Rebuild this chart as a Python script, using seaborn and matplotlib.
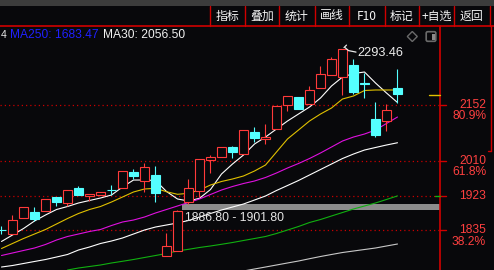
import matplotlib
matplotlib.use("Agg")
import matplotlib.pyplot as plt
import seaborn as sns
import numpy as np
import pandas as pd
from matplotlib.patches import Rectangle, Polygon, FancyBboxPatch

sns.set_style("dark")
plt.rcParams['font.family'] = ['Liberation Sans', 'Noto Sans CJK SC', 'DejaVu Sans']

# ---------------- data ----------------
opens  = [1836.0, 1825.0, 1865.0, 1880.5, 1885.0, 1919.0, 1905.0, 1941.0, 1921.0, 1925.0,
          1936.5, 1941.0, 1982.5, 1960.5, 1975.0, 1770.0, 1783.0, 1906.0, 1935.0, 2013.0,
          2020.0, 2047.0, 2027.0, 2083.0, 2065.0, 2090.5, 2151.0, 2171.5, 2154.0, 2194.0,
          2228.0, 2222.0, 2253.0, 2206.5, 2116.6, 2112.3, 2196.0]
closes = [1835.5, 1860.0, 1893.0, 1864.0, 1913.5, 1907.0, 1936.0, 1925.0, 1926.0, 1931.0,
          1936.0, 1984.0, 1971.6, 1994.5, 1930.0, 1794.5, 1884.0, 1941.0, 2014.6, 2021.0,
          2045.0, 2032.0, 2089.0, 2069.0, 2071.0, 2149.0, 2175.0, 2142.6, 2190.0, 2230.0,
          2268.0, 2293.0, 2184.0, 2206.0, 2076.0, 2139.4, 2179.0]
highs  = [1846.0, 1874.0, 1893.0, 1893.0, 1913.5, 1919.0, 1936.0, 1948.0, 1926.0, 1933.0,
          1950.0, 1984.0, 1990.0, 2004.5, 1998.0, 1827.0, 1886.8, 1965.0, 2014.6, 2025.5,
          2045.0, 2049.0, 2089.0, 2096.0, 2104.0, 2149.0, 2175.0, 2172.0, 2200.0, 2251.0,
          2274.0, 2293.46, 2268.0, 2234.0, 2160.0, 2154.5, 2242.0]
lows   = [1826.0, 1825.0, 1865.0, 1858.0, 1885.0, 1897.0, 1896.5, 1925.0, 1908.0, 1925.0,
          1924.0, 1941.0, 1965.0, 1931.0, 1907.0, 1770.0, 1783.0, 1901.8, 1920.0, 1981.0,
          2020.0, 2017.0, 2027.0, 2058.0, 2053.0, 2090.5, 2138.0, 2142.6, 2154.0, 2194.0,
          2228.0, 2177.0, 2179.0, 2169.0, 2071.8, 2087.0, 2156.0]

nan = np.nan
ma5   = [1806.7, 1823.1, 1839.5, 1858.5, 1873.7, 1887.6, 1895.2, 1904.1, 1910.4, 1916.7,
         1924.3, 1944.5, 1962.2, 1962.2, 1961.0, 1933.2, 1914.2, 1909.1, 1916.0, 1938.2,
         1977.4, 2002.7, 2025.5, 2053.3, 2071.0, 2091.3, 2111.5, 2129.2, 2146.9, 2169.7,
         2200.1, 2222.8, 2231.7, 2235.5, 2207.7, 2182.4, 2158.3]
ma10  = [1788.9, 1801.6, 1814.2, 1825.6, 1837.0, 1850.9, 1864.8, 1877.5, 1887.6, 1895.2,
         1906.6, 1919.2, 1931.9, 1939.5, 1941.3, 1932.6, 1926.1, 1928.6, 1936.9, 1949.6,
         1958.5, 1964.8, 1972.4, 1985.0, 2000.2, 2033.1, 2066.0, 2088.7, 2111.5, 2129.2,
         2144.4, 2167.2, 2174.8, 2188.7, 2190.0, 2190.0, 2190.0]
ma20  = [1771.2, 1777.6, 1783.9, 1790.2, 1799.1, 1810.4, 1819.3, 1825.6, 1832.0, 1837.0,
         1847.1, 1856.0, 1861.0, 1868.6, 1878.8, 1887.6, 1896.5, 1905.3, 1914.2, 1925.6,
         1936.9, 1945.8, 1953.4, 1959.7, 1968.6, 1980.0, 1992.6, 2004.0, 2016.6, 2030.6,
         2045.7, 2060.9, 2071.0, 2078.6, 2088.7, 2105.2, 2121.6]
ma30  = [1742.1, 1745.9, 1751.0, 1756.1, 1761.1, 1767.4, 1773.8, 1785.1, 1792.7, 1801.6,
         1807.9, 1815.5, 1825.6, 1835.7, 1843.3, 1848.4, 1853.5, 1859.8, 1868.6, 1877.5,
         1886.3, 1893.9, 1901.5, 1911.6, 1921.8, 1935.7, 1948.3, 1961.0, 1974.9, 1988.8,
         2002.7, 2016.6, 2028.0, 2038.1, 2044.5, 2050.8, 2056.5]
ma60  = [nan, nan, nan, nan, nan, nan, 1734.5, 1739.6, 1743.4, 1747.2,
         1752.3, 1756.6, 1761.1, 1766.2, 1771.2, 1776.3, 1782.6, 1786.9, 1791.5, 1795.3,
         1799.6, 1804.1, 1809.2, 1814.2, 1819.3, 1826.9, 1835.7, 1844.6, 1854.7, 1862.3,
         1871.2, 1880.0, 1888.9, 1896.5, 1904.1, 1913.0, 1922.0]
ma120 = [nan] * 22 + [1732.0, 1737.1, 1742.1, 1747.2, 1752.3, 1757.3, 1763.1, 1768.7,
         1773.8, 1778.8, 1782.6, 1786.4, 1790.2, 1795.3, 1800.3]

level_prices = [2152, 2010, 1923, 1835]
level_pcts = ["80.9%", "61.8%", "", "38.2%"]
gap_low, gap_high = 1886.80, 1901.80
peak_value = 2293.46
buttons = ["指标", "叠加", "统计", "画线", "F10", "标记", "+自选", "返回"]
header_texts = ["MA250: 1683.47", "MA30: 2056.50"]

# ---------------- style ----------------
BG = "#08080b"
RED = "#ff3a3a"
CYAN = "#54ffff"
DOT_RED = "#c80000"
LBL_RED = "#ff4040"
W, H = 494, 270
PLOT_TOP, AXIS_X = 26, 440
YMIN, YMAX = 1734.55, 2351.9
LW = 0.8

fig = plt.figure(figsize=(W / 100, H / 100), dpi=100)
fig.patch.set_facecolor(BG)

ax = fig.add_axes([0, 0, AXIS_X / W, (H - PLOT_TOP) / H])
ax.set_facecolor(BG)

n = len(opens)
idx = np.arange(n)

# dotted level lines
for p in level_prices:
    ax.axhline(p, color=DOT_RED, lw=0.9, linestyle=(0, (1, 2.4)), zorder=1)

# gap band
ax.fill_between([16.4, 39.864], gap_low, gap_high, color="#8c8c8c", lw=0, zorder=2)

# moving averages via seaborn
ma_df = pd.DataFrame({"i": idx, "MA5": ma5, "MA10": ma10, "MA20": ma20,
                      "MA30": ma30, "MA60": ma60, "MA120": ma120})
long = ma_df.melt(id_vars="i", var_name="line", value_name="v").dropna()
palette = {"MA5": "#ffffff", "MA10": "#e0c000", "MA20": "#e010e0",
           "MA30": "#ffffff", "MA60": "#10b010", "MA120": "#c8c8c8"}
sns.lineplot(data=long, x="i", y="v", hue="line", palette=palette, ax=ax,
             legend=False, estimator=None, sort=False, linewidth=LW, zorder=3)

# candles
bw = 0.74
for i in range(n):
    o, c, h, l = opens[i], closes[i], highs[i], lows[i]
    top, bot = max(o, c), min(o, c)
    if c >= o:
        if h > top:
            ax.vlines(i, top, h, color=RED, lw=LW, zorder=4)
        if l < bot:
            ax.vlines(i, l, bot, color=RED, lw=LW, zorder=4)
        ax.add_patch(Rectangle((i - bw / 2, bot), bw, top - bot, facecolor=BG,
                               edgecolor=RED, lw=LW, zorder=5))
    else:
        ax.vlines(i, l, h, color=CYAN, lw=LW, zorder=4)
        ax.add_patch(Rectangle((i - bw / 2, bot), bw, max(top - bot, 0.5),
                               facecolor=CYAN, edgecolor=CYAN, lw=LW, zorder=5))

ax.set_xlim(-0.136, 39.864)
ax.set_ylim(YMIN, YMAX)
ax.axis("off")

# ---------------- overlay UI in pixel coordinates ----------------
ui = fig.add_axes([0, 0, 1, 1], zorder=10)
ui.set_xlim(0, W)
ui.set_ylim(H, 0)
ui.axis("off")
ui.patch.set_alpha(0)


def ypix(p):
    return PLOT_TOP + (YMAX - p) / (YMAX - YMIN) * (H - PLOT_TOP)


# top bar and header
ui.add_patch(Rectangle((0, 0), W, 6, color="#3c3c3c", lw=0))
ui.plot([0, W], [25.5, 25.5], color="#d00000", lw=1.2)
seps = [210, 244.5, 279, 314.5, 349, 384.5, 419, 454, 489.5]
for s in seps:
    ui.plot([s, s], [6, 25.5], color="#d00000", lw=1.0)
for k, b in enumerate(buttons):
    ui.text((seps[k] + seps[k + 1]) / 2, 16, b, color="#f4f4f4", fontsize=8.6,
            ha="center", va="center",
            family=["Noto Sans CJK SC", "DejaVu Sans"])

# right axis
ui.plot([AXIS_X, AXIS_X], [PLOT_TOP, H], color="#d00000", lw=1.2)
ui.plot([491, 491], [PLOT_TOP, 151], color="#d00000", lw=1.0)
ui.plot([488, 491], [151, 151], color="#d00000", lw=1.0)
for p, pct in zip(level_prices, level_pcts):
    y = ypix(p)
    ui.plot([AXIS_X, AXIS_X + 6], [y, y], color="#d00000", lw=1.0)
    ui.text(486, y, f"{p}", color=LBL_RED, fontsize=8.64, ha="right", va="center")
    if pct:
        ui.text(486, y + 11.3, pct, color=LBL_RED, fontsize=8.64, ha="right", va="center")

# small right-margin markers
ui.plot([429, AXIS_X], [ypix(ma10[-1]) + 5, ypix(ma10[-1]) + 5], color="#e0c000", lw=1.0)
ui.plot([435, AXIS_X], [ypix(level_prices[2]), ypix(level_prices[2])], color="#10b010", lw=1.0)

# header texts
ui.text(0.5, 35.5, "4", color="#e8e8e8", fontsize=7.5, ha="left", va="center")
ui.text(10, 35.5, header_texts[0], color="#2020ff", fontsize=8.64, ha="left", va="center")
ui.text(102.5, 35.5, header_texts[1], color="#f0f0f0", fontsize=8.64, ha="left", va="center")

# icons
ui.add_patch(Polygon([[412.3, 31.5], [417.3, 36.5], [412.3, 41.5], [407.3, 36.5]],
                     closed=True, fill=False, edgecolor="#6a6a6a", lw=1.0))
ui.add_patch(FancyBboxPatch((426.5, 32), 9, 9, boxstyle="round,pad=0.3,rounding_size=1.5",
                            fill=False, edgecolor="#6a6a6a", lw=1.2))
ui.add_patch(Rectangle((431.5, 33.5), 3, 6, color="#8a8a8a", lw=0))

# peak annotation
py = ypix(peak_value)
ui.plot([345, 348.5, 356], [py - 1.5, py + 1.5, py + 3], color="#e8e8e8", lw=0.9)
ui.plot([344, 346.5], [py - 1.5, py - 4], color="#e8e8e8", lw=0.9)
ui.text(357.5, py + 3.5, f"{peak_value:.2f}", color="#ececec", fontsize=9.2,
        ha="left", va="center")

# gap annotation
ui.text(185, 218.3, f"{gap_low:.2f} - {gap_high:.2f}", color="#e6e6e6",
        fontsize=8.8, ha="left", va="center")

fig.savefig("out.png", dpi=100, facecolor=BG)
